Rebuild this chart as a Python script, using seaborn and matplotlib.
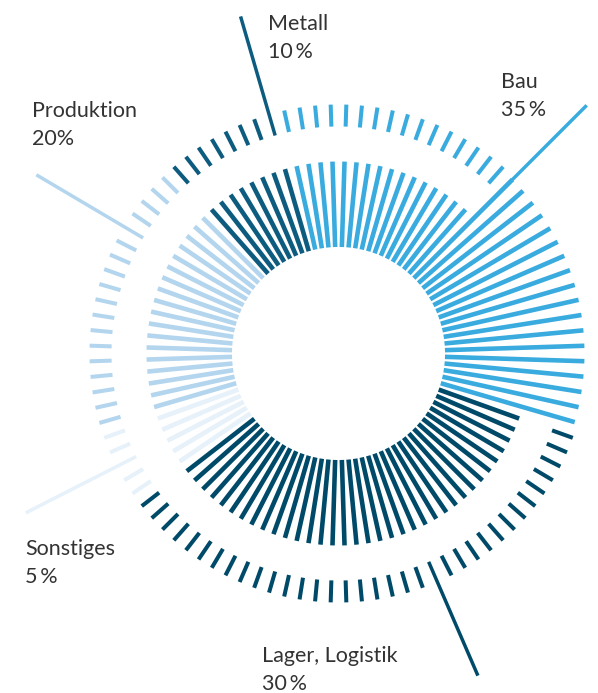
import numpy as np
import matplotlib
matplotlib.use("Agg")
import matplotlib.pyplot as plt
import seaborn as sns

# categories in clockwise order, starting at the upper left (Metall)
categories = ["Metall", "Bau", "Lager, Logistik", "Sonstiges", "Produktion"]
share_labels = ["10\u2009%", "35\u2009%", "30\u2009%", "5\u2009%", "20%"]
# bars per category, counted on the picture (100 bars = full circle)
bar_counts = [8, 34, 35, 5, 18]
# index (inside its category) of the bar that carries the long label line
leader_index = [7, 16, 13, 2, 13]
# the last Bau bars run through the outer ring
bau_long_bars = 18

colors = sns.color_palette(["#0d5c80", "#3aabdf", "#004a69", "#e6f1fa", "#b3d5ee"])

W, H, DPI = 598, 693, 100
CX, CY = 338.5, 353.5          # centre of the ring in pixels
R_IN, R_MID, R_LONG = 106.5, 192, 246
R_T0, R_T1, R_LEAD = 227, 249, 351
START_DEG = 318.6              # angle of the first Metall bar (clockwise from top)


def build_bars():
    n_total = sum(bar_counts)
    step = 2 * np.pi / n_total
    rows = []
    k = 0
    for ci, n in enumerate(bar_counts):
        for i in range(n):
            theta = np.deg2rad(START_DEG) + k * step
            long_bar = categories[ci] == "Bau" and i >= n - bau_long_bars
            leader = i == leader_index[ci]
            rows.append((theta, ci, long_bar, leader))
            k += 1
    return rows


def draw_ring(ax, rows):
    for theta, ci, long_bar, leader in rows:
        c = colors[ci]
        ax.vlines(theta, R_IN, R_LONG if long_bar else R_MID, colors=[c],
                  linewidth=3.3, capstyle="butt")
        if leader:
            ax.vlines(theta, R_T0, R_LEAD, colors=[c], linewidth=2.5, capstyle="butt")
        elif not long_bar:
            ax.vlines(theta, R_T0, R_T1, colors=[c], linewidth=2.9, capstyle="butt")


def main():
    sns.set_theme(style="white")
    plt.rcParams["font.family"] = ["Lato", "DejaVu Sans"]

    fig = plt.figure(figsize=(W / DPI, H / DPI), dpi=DPI)
    R_AX = 360
    ax = fig.add_axes([(CX - R_AX) / W, (H - CY - R_AX) / H, 2 * R_AX / W, 2 * R_AX / H],
                      projection="polar")
    ax.set_theta_zero_location("N")
    ax.set_theta_direction(-1)
    ax.set_ylim(0, R_AX)
    ax.axis("off")

    draw_ring(ax, build_bars())

    # label positions (left x, baseline y) in pixels
    label_pos = {
        "Metall": (268, 30),
        "Bau": (501, 88),
        "Lager, Logistik": (262, 662),
        "Sonstiges": (25, 555),
        "Produktion": (32, 117),
    }
    for name, share in zip(categories, share_labels):
        x, y = label_pos[name]
        for j, txt in enumerate([name, share]):
            fig.text(x / W, 1 - (y + 28 * j) / H, txt, fontsize=15.5,
                     color="#333333", ha="left", va="baseline")

    fig.savefig("out.png", dpi=DPI, facecolor="white")


if __name__ == "__main__":
    main()
